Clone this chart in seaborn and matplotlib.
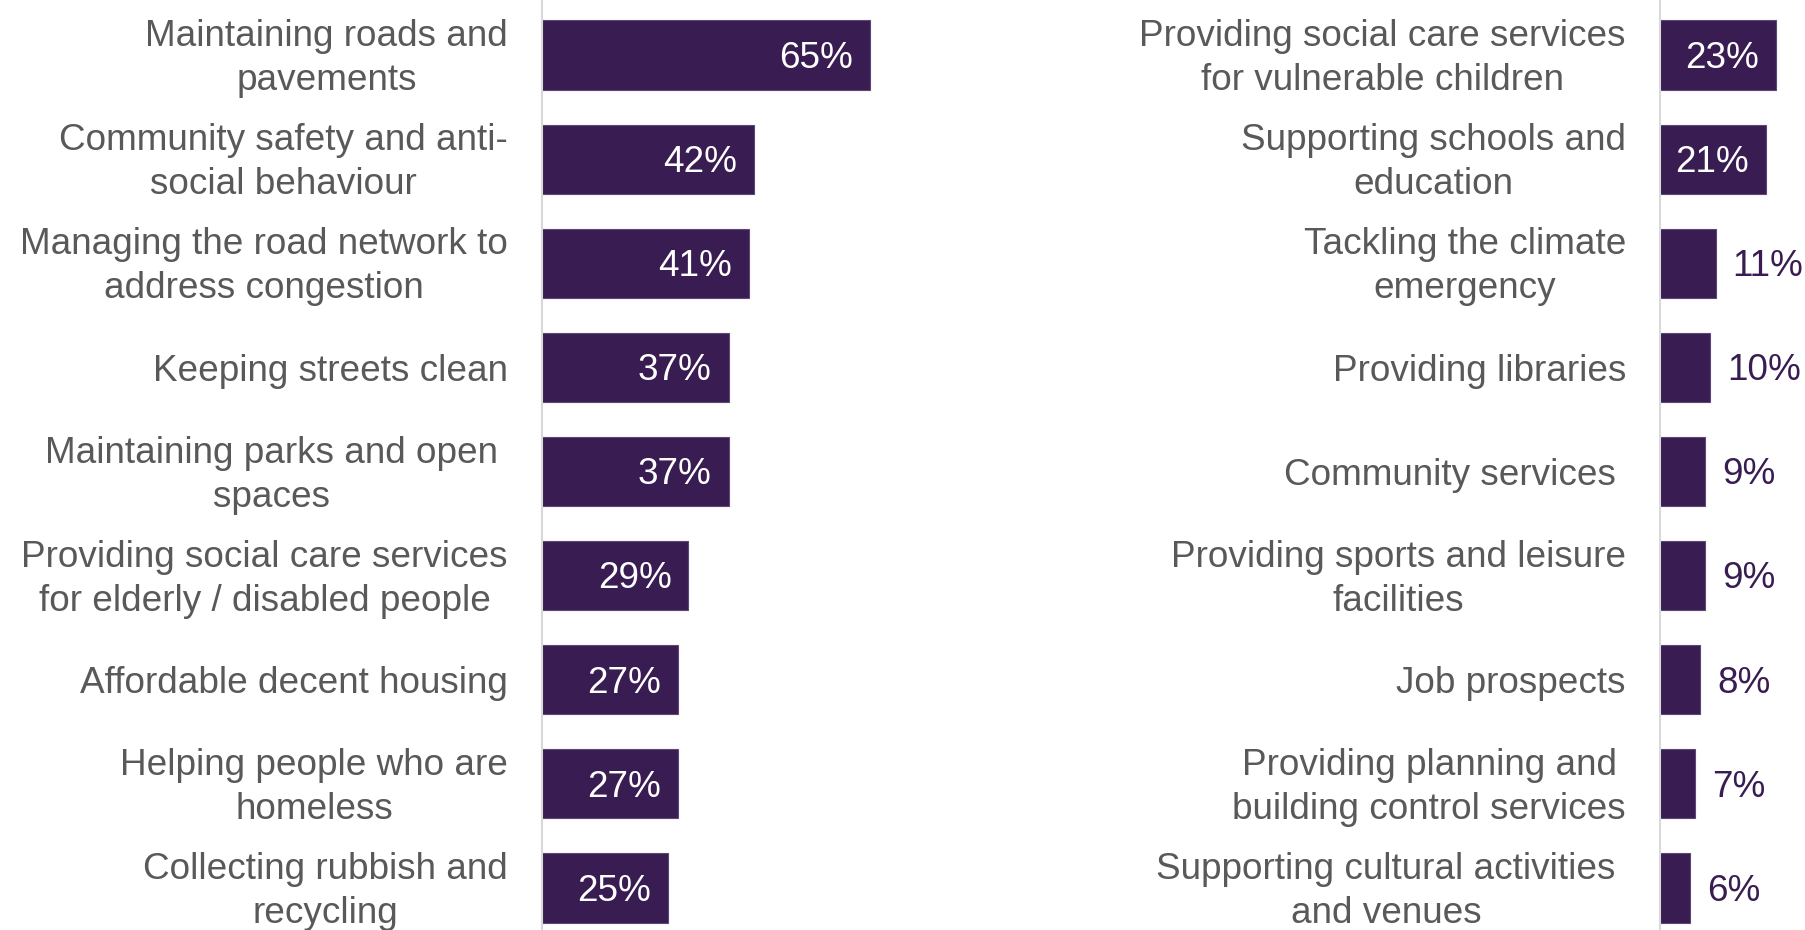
import matplotlib
matplotlib.use("Agg")
import matplotlib.pyplot as plt
from matplotlib.transforms import ScaledTranslation
import seaborn as sns
import pandas as pd

# Survey results: share of respondents naming each service as a priority
left_categories = [
    "Maintaining roads and\npavements",
    "Community safety and anti-\nsocial behaviour",
    "Managing the road network to\naddress congestion",
    "Keeping streets clean",
    "Maintaining parks and open \nspaces ",
    "Providing social care services\nfor elderly / disabled people",
    "Affordable decent housing",
    "Helping people who are\nhomeless",
    "Collecting rubbish and\nrecycling",
]
left_values = [65, 42, 41, 37, 37, 29, 27, 27, 25]

right_categories = [
    "Providing social care services\nfor vulnerable children",
    "Supporting schools and\neducation",
    "Tackling the climate\nemergency",
    "Providing libraries",
    "Community services ",
    "Providing sports and leisure\nfacilities",
    "Job prospects",
    "Providing planning and\nbuilding control services",
    "Supporting cultural activities \nand venues ",
]
right_values = [23, 21, 11, 10, 9, 9, 8, 7, 6]

BAR = "#391d52"
LABEL_GREY = "#595959"
AXIS_GREY = "#d9d9d9"
FS = 26.6
INSIDE_MIN = 20  # values at or above this are printed inside the bar

sns.set_theme(style="white")
plt.rcParams["font.family"] = ["Liberation Sans", "DejaVu Sans"]

W, H = 1806, 930
fig = plt.figure(figsize=(W / 100, H / 100), dpi=100)
px_per_pct = 5.05
row_px = 104.1
top_pad = 55 / row_px
bot_pad = 42 / row_px
# two-line labels sit slightly higher so their ink is centred on the bar
lift = ScaledTranslation(0, 5 / 100, fig.dpi_scale_trans)


def panel(x0, width_px, cats, vals):
    ax = fig.add_axes([x0 / W, 0, width_px / W, 1])
    df = pd.DataFrame({"cat": cats, "val": vals})
    sns.barplot(data=df, y="cat", x="val", orient="h", ax=ax,
                color=BAR, saturation=1, width=0.663,
                edgecolor="#5c4876", linewidth=0.8)
    ax.set_xlim(0, width_px / px_per_pct)
    ax.set_ylim(len(cats) - 1 + bot_pad, -top_pad)
    ax.set_xlabel("")
    ax.set_ylabel("")
    ax.set_xticks([])
    for s in ("top", "right", "bottom"):
        ax.spines[s].set_visible(False)
    ax.spines["left"].set_color(AXIS_GREY)
    ax.spines["left"].set_linewidth(1.5)
    ax.tick_params(axis="y", length=0, pad=24.5)
    for t in ax.get_yticklabels():
        t.set_fontsize(FS)
        t.set_color(LABEL_GREY)
        t.set_ha("right")
        t.set_multialignment("center")
        t.set_linespacing(1.34)
        if "\n" in t.get_text():
            t.set_transform(t.get_transform() + lift)
    for i, v in enumerate(vals):
        if v >= INSIDE_MIN:
            ax.annotate(f"{v}%", (v, i), xytext=(-12.2, -2.4),
                        textcoords="offset points", ha="right", va="center",
                        color="white", fontsize=FS, annotation_clip=False)
        else:
            ax.annotate(f"{v}%", (v, i), xytext=(12.2, -2.4),
                        textcoords="offset points", ha="left", va="center",
                        color=BAR, fontsize=FS, annotation_clip=False)
    return ax


panel(542, 500, left_categories, left_values)
panel(1660, 146, right_categories, right_values)

fig.savefig("out.png", dpi=100, facecolor="white")
